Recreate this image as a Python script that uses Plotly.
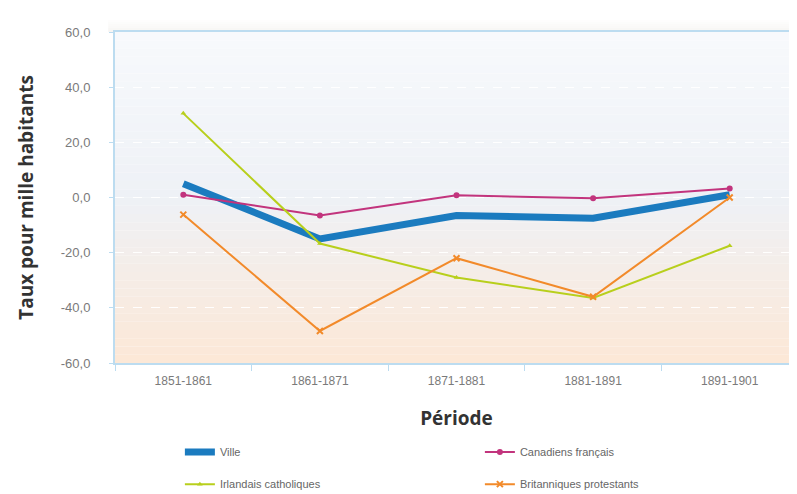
"""Taux pour mille habitants par période."""

import plotly.graph_objects as go

periodes = ["1851-1861", "1861-1871", "1871-1881", "1881-1891", "1891-1901"]
ville = [5.0, -15.0, -6.5, -7.5, 1.0]
canadiens_francais = [1.0, -6.5, 0.8, -0.3, 3.3]
irlandais_catholiques = [30.5, -16.7, -29.0, -36.4, -17.5]
britanniques_protestants = [-6.2, -48.4, -22.0, -36.0, 0.0]
y_ticks = [-60, -40, -20, 0, 20, 40, 60]
y_tick_labels = ["-60,0", "-40,0", "-20,0", "0,0", "20,0", "40,0", "60,0"]

SANS = "Liberation Sans Narrow, Arial Narrow, Liberation Sans, sans-serif"
TITLE_FONT = dict(family="Open Sans, sans-serif", size=19, color="#333333", weight="bold")
AXIS_COLOR = "#bcdcf0"

fig = go.Figure()

series = [
    ("Ville", ville, "#1b7bbf", 7, dict(size=1, opacity=0), "legend"),
    ("Canadiens français", canadiens_francais, "#c2347d", 2, dict(symbol="circle", size=6), "legend"),
    ("Irlandais catholiques", irlandais_catholiques, "#b8cf1c", 2, dict(symbol="triangle-up", size=5), "legend2"),
    ("Britanniques protestants", britanniques_protestants, "#f28a2a", 2,
     dict(symbol="x-thin", size=6, line=dict(width=2, color="#f28a2a")), "legend2"),
]
for name, values, color, width, marker, leg in series:
    fig.add_trace(go.Scatter(
        x=periodes, y=values, name=name, legend=leg,
        mode="lines+markers" if name != "Ville" else "lines",
        line=dict(color=color, width=width),
        marker=dict(color=color, **marker),
    ))

# vertical gradient background: bluish grey at top, peach at bottom
top = (247, 249, 252)
mid = (238, 241, 246)
bottom = (252, 232, 215)
steps = 40
for i in range(steps):
    t = i / (steps - 1)
    if t < 0.5:
        a, b, u = top, mid, t / 0.5
    else:
        a, b, u = mid, bottom, (t - 0.5) / 0.5
    c = tuple(round(a[k] + (b[k] - a[k]) * u) for k in range(3))
    fig.add_shape(
        type="rect", xref="x domain", yref="y domain",
        x0=0, x1=1, y0=1 - (i + 1) / steps, y1=1 - i / steps,
        fillcolor=f"rgb{c}", line_width=0, layer="below",
    )

# soft shadow above and right of the plot frame
for i in range(6):
    alpha = 0.12 * (1 - i / 6)
    fig.add_shape(
        type="rect", xref="paper", yref="paper",
        x0=-0.01, x1=1.01, y0=1 + i * 0.006, y1=1 + (i + 1) * 0.006,
        fillcolor=f"rgba(190,175,160,{alpha:.3f})", line_width=0, layer="below",
    )
    fig.add_shape(
        type="rect", xref="paper", yref="paper",
        x0=1 + i * 0.0015, x1=1 + (i + 1) * 0.0015, y0=0, y1=1,
        fillcolor=f"rgba(190,190,195,{alpha:.3f})", line_width=0, layer="below",
    )

legend_style = dict(
    orientation="h", xanchor="left", yanchor="middle",
    entrywidth=255, entrywidthmode="pixels",
    font=dict(family=SANS, size=11, color="#666666"),
    itemwidth=30, bgcolor="rgba(0,0,0,0)",
)

fig.update_layout(
    width=797, height=494,
    margin=dict(l=107, r=7, t=24, b=139, autoexpand=False),
    paper_bgcolor="white",
    plot_bgcolor="rgba(0,0,0,0)",
    showlegend=True,
    legend=dict(x=0.095, y=-0.269, **legend_style),
    legend2=dict(x=0.095, y=-0.366, **legend_style),
    xaxis=dict(
        title=dict(text="Période", font=TITLE_FONT, standoff=24),
        range=[-0.5, 4.5],
        tickfont=dict(family=SANS, size=12, color="#7a7a7a"),
        showline=True, linecolor=AXIS_COLOR, linewidth=2,
        ticks="outside", tickson="boundaries", ticklen=6, tickcolor=AXIS_COLOR,
        ticklabelstandoff=6, showgrid=False, mirror=True,
    ),
    yaxis=dict(
        title=dict(text="Taux pour mille habitants", font=TITLE_FONT, standoff=22),
        range=[-60, 60], tickvals=y_ticks, ticktext=y_tick_labels,
        tickfont=dict(family=SANS, size=13, color="#7a7a7a"),
        showline=True, linecolor=AXIS_COLOR, linewidth=2, mirror=True,
        ticks="outside", ticklen=4, tickcolor=AXIS_COLOR, ticklabelstandoff=16,
        showgrid=True, gridcolor="rgba(255,255,255,0.95)", griddash="dash", gridwidth=1,
        zeroline=False,
    ),
)

fig.write_html("out.html")
